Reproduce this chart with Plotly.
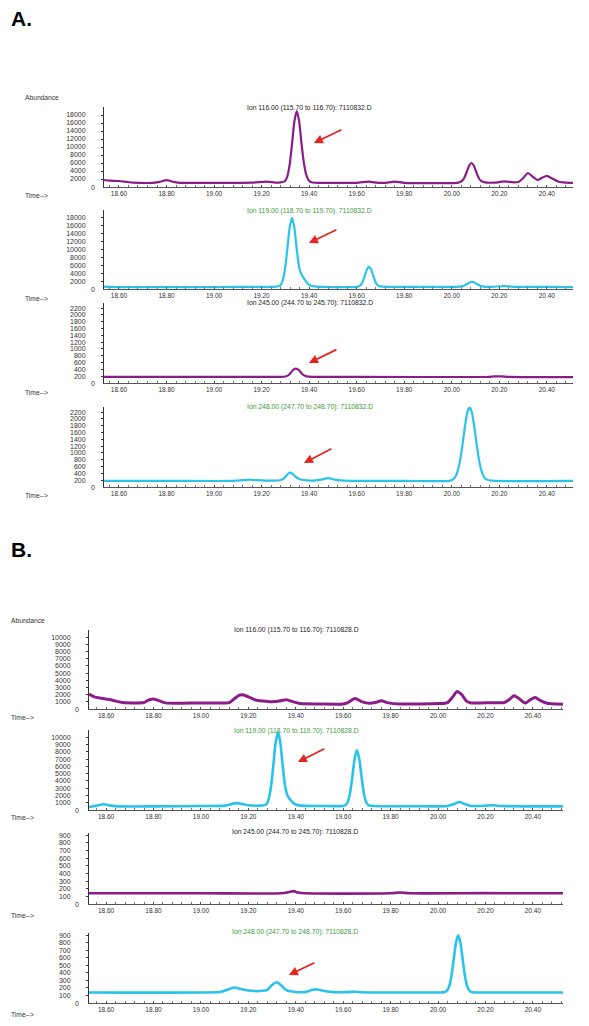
import plotly.graph_objects as go

# The page body has an 8 px default margin, so the figure is drawn 8 px in from the
# window edge; the figure size and pixel positions below account for that.
PAGE_W, PAGE_H, BODY_MARGIN = 589, 1026, 8
W, H = PAGE_W - BODY_MARGIN, PAGE_H - BODY_MARGIN

# ---------------- data ----------------
# Panel A : file 7110832.D
T_A116 = [18.537, 18.56, 18.60, 18.63, 18.66, 18.74, 18.77, 18.80, 18.83, 18.86, 19.00, 19.16, 19.22, 19.27,
          19.298, 19.308, 19.318, 19.328, 19.338, 19.348, 19.358, 19.368, 19.378, 19.388, 19.398, 19.41, 19.44,
          19.60, 19.65, 19.69, 19.72, 19.76, 19.80, 20.02, 20.033, 20.043, 20.053, 20.063, 20.073, 20.083, 20.093,
          20.103, 20.113, 20.123, 20.14, 20.18, 20.22, 20.26, 20.28, 20.30, 20.32, 20.34, 20.36, 20.38, 20.40,
          20.42, 20.45, 20.48, 20.51]
Y_A116 = [1750, 1600, 1500, 1300, 1100, 1050, 1300, 1700, 1300, 1050, 1050, 1100, 1350, 1100,
          1480, 2620, 5575, 10770, 16440, 19000, 16440, 10770, 6000, 3000, 1700, 1200, 1050,
          1050, 1350, 1050, 1050, 1350, 1050, 1050, 1200, 1515, 2325, 3750, 5300, 6000, 5300,
          3750, 2325, 1515, 1150, 1100, 1400, 1150, 1250, 2200, 3500, 2600, 1750, 2300, 2800,
          2200, 1300, 1100, 1050]

T_A119 = [18.537, 18.60, 18.80, 19.00, 19.20, 19.25, 19.278, 19.288, 19.298, 19.308, 19.318, 19.328, 19.338,
          19.348, 19.358, 19.368, 19.378, 19.388, 19.40, 19.42, 19.46, 19.60, 19.612, 19.622, 19.632, 19.642,
          19.652, 19.662, 19.672, 19.682, 19.692, 19.71, 19.80, 20.035, 20.045, 20.055, 20.065, 20.075, 20.085,
          20.095, 20.105, 20.115, 20.125, 20.135, 20.17, 20.22, 20.26, 20.40, 20.51]
Y_A119 = [600, 500, 500, 500, 550, 560, 870, 1990, 4875, 9950, 15500, 18000, 15500,
          9950, 5500, 3600, 2700, 1800, 1000, 650, 550, 550, 780, 1430, 2920, 4780,
          5700, 4780, 2920, 1430, 780, 580, 550, 600, 720, 950, 1310, 1650, 1800,
          1650, 1310, 950, 720, 600, 550, 750, 550, 520, 500]

T_A245 = [18.537, 19.00, 19.28, 19.30, 19.315, 19.325, 19.335, 19.345, 19.355, 19.365, 19.375, 19.39, 19.41,
          19.60, 20.15, 20.18, 20.21, 20.24, 20.51]
Y_A245 = [180, 180, 180, 190, 240, 320, 400, 425, 390, 310, 240, 195, 180,
          180, 180, 195, 195, 180, 175]

T_A248 = [18.537, 18.80, 19.08, 19.12, 19.15, 19.18, 19.22, 19.27, 19.29, 19.30, 19.31, 19.32, 19.33, 19.34,
          19.36, 19.39, 19.42, 19.45, 19.48, 19.51, 19.55, 19.80, 19.99, 20.005, 20.015, 20.025, 20.035, 20.045,
          20.055, 20.065, 20.075, 20.085, 20.095, 20.105, 20.115, 20.125, 20.135, 20.145, 20.17, 20.51]
Y_A248 = [180, 180, 180, 200, 215, 200, 190, 190, 230, 300, 380, 420, 390, 320,
          225, 195, 190, 215, 260, 215, 185, 180, 180, 223, 300, 473, 783, 1237,
          1755, 2180, 2350, 2180, 1755, 1237, 783, 473, 300, 223, 185, 180]

# Panel B : file 7110828.D
T_B116 = [18.528, 18.55, 18.58, 18.61, 18.64, 18.67, 18.72, 18.76, 18.78, 18.80, 18.82, 18.85, 18.90, 19.00,
          19.08, 19.12, 19.14, 19.16, 19.18, 19.20, 19.23, 19.26, 19.30, 19.33, 19.36, 19.39, 19.42, 19.50,
          19.60, 19.62, 19.65, 19.68, 19.71, 19.74, 19.76, 19.79, 19.84, 20.00, 20.04, 20.06, 20.08, 20.10,
          20.12, 20.14, 20.18, 20.22, 20.28, 20.30, 20.32, 20.34, 20.36, 20.37, 20.39, 20.41, 20.43, 20.46,
          20.50, 20.527]
Y_B116 = [2100, 1700, 1500, 1350, 1100, 900, 850, 900, 1250, 1400, 1200, 850, 800, 850,
          850, 900, 1400, 1900, 1950, 1700, 1250, 1100, 1000, 1100, 1300, 1000, 750, 700,
          700, 900, 1450, 1000, 800, 950, 1150, 850, 700, 750, 900, 1600, 2450, 2000,
          1100, 850, 850, 880, 900, 1300, 1850, 1500, 950, 850, 1300, 1600, 1200, 800,
          700, 650]

T_B119 = [18.528, 18.56, 18.59, 18.62, 18.66, 18.80, 19.00, 19.10, 19.15, 19.20, 19.25, 19.275, 19.285,
          19.295, 19.305, 19.315, 19.325, 19.335, 19.345, 19.355, 19.365, 19.375, 19.385, 19.40, 19.42,
          19.50, 19.60, 19.608, 19.618, 19.628, 19.638, 19.648, 19.658, 19.668, 19.678, 19.688, 19.698,
          19.708, 19.73, 19.90, 20.04, 20.07, 20.09, 20.11, 20.14, 20.20, 20.23, 20.26, 20.527]
Y_B119 = [400, 600, 800, 600, 500, 500, 550, 600, 950, 650, 600, 760, 1410,
          3090, 6030, 9250, 10700, 9250, 6030, 3300, 2000, 1500, 1100, 750, 600,
          550, 550, 650, 1030, 2160, 4380, 6980, 8200, 6980, 4380, 2160, 1030,
          650, 550, 520, 550, 850, 1100, 850, 560, 600, 650, 560, 500]

T_B245 = [18.528, 19.00, 19.34, 19.37, 19.39, 19.41, 19.44, 19.80, 19.84, 19.88, 20.20, 20.527]
Y_B245 = [140, 140, 140, 155, 168, 150, 140, 140, 150, 140, 142, 140]

T_B248 = [18.528, 18.70, 19.00, 19.08, 19.11, 19.14, 19.17, 19.20, 19.25, 19.28, 19.30, 19.32, 19.34, 19.36,
          19.39, 19.44, 19.47, 19.49, 19.52, 19.56, 19.62, 19.65, 19.68, 20.00, 20.025, 20.035, 20.045,
          20.055, 20.065, 20.075, 20.085, 20.095, 20.105, 20.115, 20.125, 20.135, 20.145, 20.16, 20.527]
Y_B248 = [140, 138, 140, 145, 175, 205, 185, 165, 160, 175, 240, 275, 230, 170,
          150, 145, 175, 180, 160, 145, 145, 150, 142, 140, 142, 156, 205,
          330, 550, 790, 900, 790, 550, 330, 205, 156, 142, 140, 140]

TITLES = ["Ion 116.00 (115.70 to 116.70): 7110832.D",
          "Ion 119.00 (118.70 to 119.70): 7110832.D",
          "Ion 245.00 (244.70 to 245.70): 7110832.D",
          "Ion 248.00 (247.70 to 248.70): 7110832.D",
          "Ion 116.00 (115.70 to 116.70): 7110828.D",
          "Ion 119.00 (118.70 to 119.70): 7110828.D",
          "Ion 245.00 (244.70 to 245.70): 7110828.D",
          "Ion 248.00 (247.70 to 248.70): 7110828.D"]

X_TICKS = [18.60, 18.80, 19.00, 19.20, 19.40, 19.60, 19.80, 20.00, 20.20, 20.40]
Y_TICKS_20K = [2000, 4000, 6000, 8000, 10000, 12000, 14000, 16000, 18000]
Y_TICKS_2200 = [200, 400, 600, 800, 1000, 1200, 1400, 1600, 1800, 2000, 2200]
Y_TICKS_10K = [1000, 2000, 3000, 4000, 5000, 6000, 7000, 8000, 9000, 10000]
Y_TICKS_900 = [100, 200, 300, 400, 500, 600, 700, 800, 900]

# arrows: (head time, head abundance, tail time, tail abundance)
ARROWS = {1: (19.42, 11000, 19.542, 14500),
          2: (19.399, 11640, 19.521, 15190),
          3: (19.399, 588, 19.521, 1000),
          4: (19.378, 705, 19.500, 1146),
          6: (19.409, 6600, 19.527, 8525),
          8: (19.371, 372, 19.485, 545)}

# ---------------- styling / layout ----------------
PURPLE = "#8a1d8a"
CYAN = "#2ac3ea"
GREEN = "#3c9c3c"
BLACK = "#222222"
RED = "#e3241f"
FONT = "Liberation Sans, Arial, sans-serif"

XR_A = [18.537, 20.51]
XR_B = [18.528, 20.527]

panels = [
    dict(t=T_A116, y=Y_A116, c=PURPLE, lw=2.2, xr=XR_A, xpx=(104, 573), ypx=(187, 107), yr=[0, 20000], yt=Y_TICKS_20K, tc=BLACK, tx=245, ty=108, zx=93, time_x=23, time_y=196),
    dict(t=T_A119, y=Y_A119, c=CYAN, lw=2.2, xr=XR_A, xpx=(104, 573), ypx=(289, 210), yr=[0, 20000], yt=Y_TICKS_20K, tc=GREEN, tx=245, ty=211, zx=93, time_x=23, time_y=298),
    dict(t=T_A245, y=Y_A245, c=PURPLE, lw=2.2, xr=XR_A, xpx=(104, 573), ypx=(383, 303), yr=[0, 2350], yt=Y_TICKS_2200, tc=BLACK, tx=245, ty=303, zx=93, time_x=23, time_y=392),
    dict(t=T_A248, y=Y_A248, c=CYAN, lw=2.2, xr=XR_A, xpx=(104, 573), ypx=(487, 407), yr=[0, 2350], yt=Y_TICKS_2200, tc=GREEN, tx=245, ty=407, zx=93, time_x=23, time_y=495),
    dict(t=T_B116, y=Y_B116, c=PURPLE, lw=3.0, xr=XR_B, xpx=(89, 563), ypx=(709, 630), yr=[0, 11000], yt=Y_TICKS_10K, tc=BLACK, tx=232, ty=630, zx=77, time_x=9, time_y=717),
    dict(t=T_B119, y=Y_B119, c=CYAN, lw=2.6, xr=XR_B, xpx=(89, 563), ypx=(810, 730), yr=[0, 11000], yt=Y_TICKS_10K, tc=GREEN, tx=232, ty=731, zx=77, time_x=9, time_y=817),
    dict(t=T_B245, y=Y_B245, c=PURPLE, lw=2.6, xr=XR_B, xpx=(89, 563), ypx=(904, 833), yr=[0, 930], yt=Y_TICKS_900, tc=BLACK, tx=230, ty=832, zx=77, time_x=9, time_y=915),
    dict(t=T_B248, y=Y_B248, c=CYAN, lw=2.6, xr=XR_B, xpx=(89, 563), ypx=(1003, 933), yr=[0, 930], yt=Y_TICKS_900, tc=GREEN, tx=230, ty=932, zx=77, time_x=9, time_y=1014),
]

fig = go.Figure()
layout = dict(width=W, height=H, autosize=False, margin=dict(l=0, r=0, t=0, b=0),
              paper_bgcolor="white", plot_bgcolor="white", showlegend=False,
              font=dict(family=FONT, size=7, color="#333"))
annotations = []


def px_x(p):
    return max(0.0, (p - BODY_MARGIN) / W)


def px_y(p):
    return 1 - (p - BODY_MARGIN) / H


for i, p in enumerate(panels, start=1):
    xa = "x" if i == 1 else f"x{i}"
    ya = "y" if i == 1 else f"y{i}"
    fig.add_trace(go.Scatter(x=p["t"], y=p["y"], mode="lines", xaxis=xa, yaxis=ya,
                             line=dict(color=p["c"], width=p["lw"], shape="spline", smoothing=0.6),
                             hoverinfo="skip"))
    layout["xaxis" if i == 1 else f"xaxis{i}"] = dict(
        domain=[px_x(p["xpx"][0]), px_x(p["xpx"][1])], range=p["xr"], anchor=ya,
        showgrid=False, zeroline=False, showline=True, linecolor="#555", linewidth=1,
        tickmode="array", tickvals=X_TICKS, ticktext=[f"{v:.2f}" for v in X_TICKS],
        ticks="inside", ticklen=2, tickcolor="#555",
        minor=dict(ticks="inside", ticklen=2, tickcolor="#777", dtick=0.04, tick0=18.6),
        tickfont=dict(family=FONT, size=6.5, color="#333"), fixedrange=True)
    layout["yaxis" if i == 1 else f"yaxis{i}"] = dict(
        domain=[px_y(p["ypx"][0]), px_y(p["ypx"][1])], range=p["yr"], anchor=xa,
        showgrid=False, zeroline=False, showline=True, linecolor="#333", linewidth=1,
        tickmode="array", tickvals=p["yt"], ticktext=[str(v) for v in p["yt"]],
        ticks="outside", ticklen=2, tickcolor="#333", ticklabelstandoff=14,
        tickfont=dict(family=FONT, size=7, color="#333"), fixedrange=True)
    # panel title
    annotations.append(dict(text=TITLES[i - 1], x=px_x(p["tx"]), y=px_y(p["ty"]), xref="paper", yref="paper",
                            xanchor="left", yanchor="middle", showarrow=False,
                            font=dict(family=FONT, size=6.8, color=p["tc"])))
    # the offset "0" label
    annotations.append(dict(text="0", x=px_x(p["zx"]), y=0, xref="paper", yref=ya,
                            xanchor="center", yanchor="middle", showarrow=False,
                            font=dict(family=FONT, size=7, color="#333")))
    # Time--> label
    annotations.append(dict(text="Time-->", x=px_x(p["time_x"]), y=px_y(p["time_y"]), xref="paper", yref="paper",
                            xanchor="left", yanchor="middle", showarrow=False,
                            font=dict(family=FONT, size=6.7, color="#333")))
    if i in ARROWS:
        hx, hy, tx, ty = ARROWS[i]
        annotations.append(dict(x=hx, y=hy, xref=xa, yref=ya, ax=tx, ay=ty, axref=xa, ayref=ya,
                                text="", showarrow=True, arrowhead=2, arrowsize=1, arrowwidth=1.8,
                                arrowcolor=RED))

annotations += [
    dict(text="<b>A.</b>", x=px_x(9), y=px_y(19), xref="paper", yref="paper", xanchor="left", yanchor="middle",
         showarrow=False, font=dict(family=FONT, size=21, color="black")),
    dict(text="<b>B.</b>", x=px_x(9), y=px_y(549), xref="paper", yref="paper", xanchor="left", yanchor="middle",
         showarrow=False, font=dict(family=FONT, size=21, color="black")),
    dict(text="Abundance", x=px_x(23), y=px_y(97), xref="paper", yref="paper", xanchor="left", yanchor="middle",
         showarrow=False, font=dict(family=FONT, size=6.7, color="#333")),
    dict(text="Abundance", x=px_x(9), y=px_y(620), xref="paper", yref="paper", xanchor="left", yanchor="middle",
         showarrow=False, font=dict(family=FONT, size=6.7, color="#333")),
]
layout["annotations"] = annotations
fig.update_layout(**layout)
fig.write_html("out.html")
